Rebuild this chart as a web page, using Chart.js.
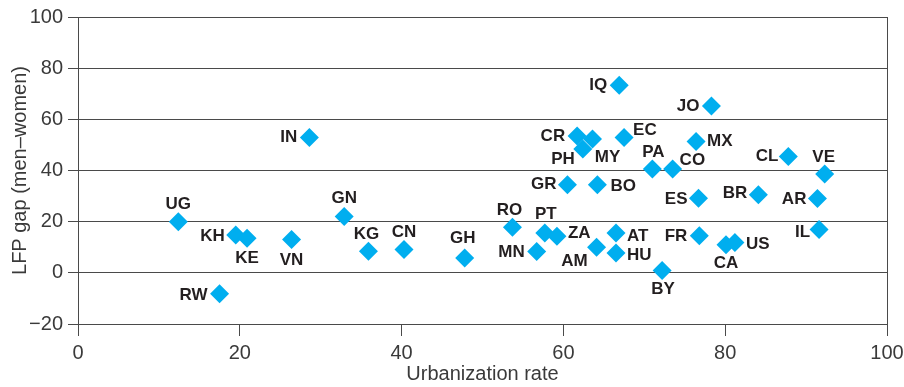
<!DOCTYPE html>
<html lang="en">
<head>
  <meta charset="UTF-8">
  <title>LFP gap vs urbanization</title>
  <script src="https://cdn.jsdelivr.net/npm/chart.js"></script>
  <style>
    html, body { margin: 0; padding: 0; background: #fff; }
    #wrap { width: 904px; height: 387px; }
  </style>
</head>
<body>
  <div id="wrap"><canvas id="chart" width="904" height="387"></canvas></div>

  <script>
    const countries = ['UG', 'KH', 'KE', 'VN', 'RW', 'IN', 'GN', 'KG', 'CN', 'GH',
      'RO', 'MN', 'PT', 'ZA', 'GR', 'CR', 'PH', 'MY', 'BO', 'AM',
      'AT', 'HU', 'IQ', 'EC', 'PA', 'BY', 'CO', 'ES', 'FR', 'MX',
      'JO', 'CA', 'US', 'BR', 'CL', 'AR', 'IL', 'VE'];
    const urbanization = [12.4, 19.5, 20.9, 26.4, 17.5, 28.6, 32.9, 35.9, 40.3, 47.8,
      53.7, 56.7, 57.7, 59.2, 60.5, 61.7, 62.4, 63.6, 64.2, 64.1,
      66.5, 66.5, 66.9, 67.5, 71.0, 72.2, 73.5, 76.7, 76.8, 76.4,
      78.3, 80.1, 81.2, 84.1, 87.8, 91.4, 91.6, 92.3];
    const lfpGap = [20.0, 14.8, 13.5, 13.0, -8.2, 52.9, 22.0, 8.4, 9.1, 5.8,
      17.8, 8.3, 15.6, 14.3, 34.4, 53.5, 48.4, 52.3, 34.4, 10.0,
      15.6, 7.8, 73.3, 52.9, 40.6, 0.9, 40.6, 29.2, 14.5, 51.3,
      65.2, 11.0, 11.9, 30.5, 45.5, 29.1, 16.9, 38.6];
    const xTicks = [0, 20, 40, 60, 80, 100];
    const yTicks = [-20, 0, 20, 40, 60, 80, 100];

    // where each code sits relative to its marker: [dx, dy, align]
    const labelPlace = {
      UG: [0, -17, 'center'], KH: [-11, 1, 'right'], KE: [0, 20, 'center'], VN: [0, 21, 'center'],
      RW: [-12, 2, 'right'], IN: [-12, 0, 'right'], GN: [0, -18, 'center'], KG: [-2, -17, 'center'],
      CN: [0, -17, 'center'], GH: [-2, -20, 'center'], RO: [-3, -17, 'center'], MN: [-12, 1, 'right'],
      PT: [1, -19, 'center'], ZA: [11, -3, 'left'], GR: [-11, -1, 'right'], CR: [-12, 0, 'right'],
      PH: [-8, 10, 'right'], MY: [15, 18, 'center'], BO: [13, 1, 'left'], AM: [-9, 14, 'right'],
      AT: [11, 3, 'left'], HU: [11, 2, 'left'], IQ: [-12, 0, 'right'], EC: [9, -7, 'left'],
      PA: [1, -17, 'center'], BY: [1, 19, 'center'], CO: [7, -9, 'left'], ES: [-11, 1, 'right'],
      FR: [-12, 1, 'right'], MX: [11, 0, 'left'], JO: [-12, 0, 'right'], CA: [0, 19, 'center'],
      US: [11, 2, 'left'], BR: [-11, -1, 'right'], CL: [-10, 0, 'right'], AR: [-11, 1, 'right'],
      IL: [-9, 3, 'right'], VE: [-1, -17, 'center']
    };

    const gridGray = '#4a4a4a';
    const textGray = '#3a3a3a';

    const codeLabels = {
      id: 'codeLabels',
      afterDatasetsDraw(chart) {
        const ctx = chart.ctx;
        const meta = chart.getDatasetMeta(0);
        ctx.save();
        ctx.font = 'bold 17px "Liberation Sans", Arial, sans-serif';
        ctx.fillStyle = '#231f20';
        ctx.textBaseline = 'middle';
        meta.data.forEach((pt, i) => {
          const code = countries[i];
          const p = labelPlace[code] || [12, 0, 'left'];
          ctx.textAlign = p[2];
          ctx.fillText(code, pt.x + p[0], pt.y + p[1]);
        });
        ctx.restore();
      }
    };

    const ctx = document.getElementById('chart').getContext('2d');
    new Chart(ctx, {
      type: 'scatter',
      data: {
        datasets: [{
          data: countries.map((c, i) => ({ x: urbanization[i], y: lfpGap[i] })),
          backgroundColor: '#00aeef',
          borderWidth: 0,
          pointStyle: 'rectRot',
          pointRadius: 9.5,
          pointHoverRadius: 9.5
        }]
      },
      options: {
        responsive: false,
        animation: false,
        events: [],
        layout: { padding: { top: 16, right: 17, bottom: 0, left: 0 } },
        plugins: {
          legend: { display: false },
          tooltip: { enabled: false }
        },
        scales: {
          x: {
            type: 'linear',
            min: 0,
            max: 100,
            afterBuildTicks: s => { s.ticks = xTicks.map(v => ({ value: v })); },
            afterFit: s => { s.height = 63; s.paddingRight = 0; s.paddingLeft = 0; },
            grid: {
              drawOnChartArea: true,
              color: c => (c.tick && c.tick.value === 100) ? gridGray : 'rgba(0,0,0,0)',
              tickColor: gridGray,
              tickLength: 12,
              lineWidth: 1
            },
            border: { display: false },
            ticks: {
              color: textGray,
              padding: 5,
              maxRotation: 0,
              font: { family: '"Liberation Sans", Arial, sans-serif', size: 20 }
            },
            title: {
              display: true,
              text: 'Urbanization rate',
              color: textGray,
              padding: { top: 0, bottom: 1 },
              font: { family: '"Liberation Sans", Arial, sans-serif', size: 20 }
            }
          },
          y: {
            type: 'linear',
            min: -20,
            max: 100,
            afterBuildTicks: s => { s.ticks = yTicks.map(v => ({ value: v })); },
            afterFit: s => { s.width = 78; },
            grid: {
              color: gridGray,
              tickColor: gridGray,
              tickLength: 10,
              lineWidth: 1
            },
            border: { display: true, color: gridGray, width: 1 },
            ticks: {
              color: textGray,
              padding: 5,
              callback: v => (v < 0 ? '\u2212' + Math.abs(v) : v),
              font: { family: '"Liberation Sans", Arial, sans-serif', size: 20 }
            },
            title: {
              display: true,
              text: 'LFP gap (men\u2013women)',
              color: textGray,
              padding: { top: 8, bottom: 0 },
              font: { family: '"Liberation Sans", Arial, sans-serif', size: 20 }
            }
          }
        }
      },
      plugins: [codeLabels]
    });
  </script>
</body>
</html>
